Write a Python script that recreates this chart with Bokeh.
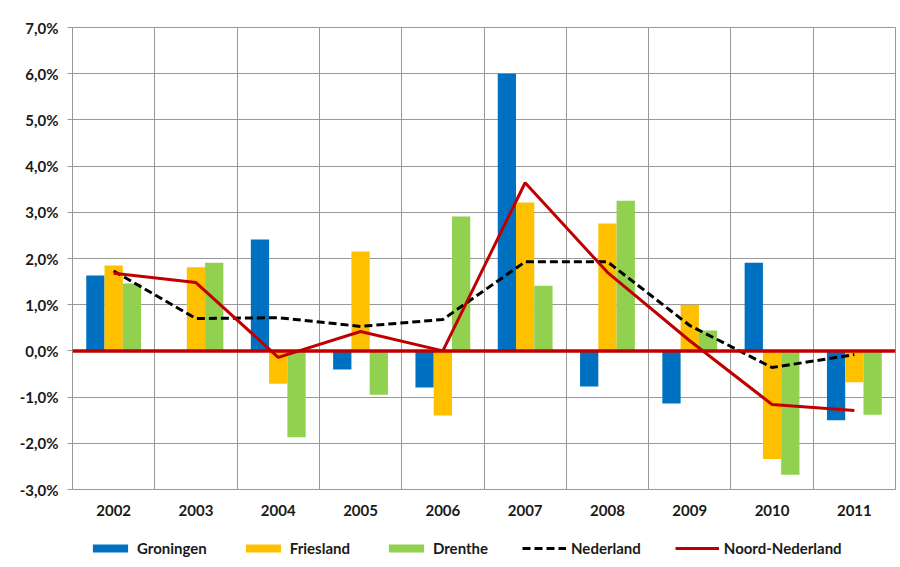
import numpy as np
from bokeh.plotting import figure
from bokeh.layouts import column
from bokeh.models import (Range1d, FixedTicker, CustomJSTickFormatter, Span,
                          Legend, LegendItem)
from bokeh.transform import dodge
from bokeh.embed import file_html
from bokeh.resources import INLINE

years = ["2002", "2003", "2004", "2005", "2006", "2007", "2008", "2009", "2010", "2011"]
groningen = [1.63, 0.0, 2.41, -0.40, -0.79, 6.00, -0.77, -1.14, 1.91, -1.50]
friesland = [1.85, 1.81, -0.71, 2.15, -1.40, 3.21, 2.76, 1.00, -2.34, -0.68]
drenthe = [1.46, 1.91, -1.87, -0.95, 2.91, 1.41, 3.25, 0.44, -2.68, -1.38]
nederland = [1.73, 0.70, 0.72, 0.53, 0.68, 1.93, 1.93, 0.55, -0.36, -0.08]
noord_nederland = [1.68, 1.48, -0.14, 0.42, 0.0, 3.64, 1.70, 0.22, -1.16, -1.29]
y_ticks = [-3, -2, -1, 0, 1, 2, 3, 4, 5, 6, 7]
series_names = ["Groningen", "Friesland", "Drenthe", "Nederland", "Noord-Nederland"]

BLUE, ORANGE, GREEN, RED = "#0070C0", "#FFC000", "#92D050", "#C00000"
FONT = "Lato"

pos = list(range(len(years)))
src = dict(x=pos, gr=groningen, fr=friesland, dr=drenthe, ne=nederland, nn=noord_nederland)


def draw_series(fig, xr):
    bw = 0.222
    r_gr = fig.vbar(x=dodge("x", -bw, range=xr), top="gr", width=bw, source=src,
                    fill_color=BLUE, line_color=None)
    r_fr = fig.vbar(x=dodge("x", 0, range=xr), top="fr", width=bw, source=src,
                    fill_color=ORANGE, line_color=None)
    r_dr = fig.vbar(x=dodge("x", bw, range=xr), top="dr", width=bw, source=src,
                    fill_color=GREEN, line_color=None)
    return r_gr, r_fr, r_dr


p = figure(width=900, height=527, output_backend="svg", toolbar_location=None,
           x_range=Range1d(-0.5, len(years) - 0.5), y_range=Range1d(-3, 7),
           min_border_left=72, min_border_top=27, min_border_right=5, min_border_bottom=38)

draw_series(p, p.x_range)

zero = Span(location=0, dimension="width", line_color=RED, line_width=3.5)
p.add_layout(zero)

p.line("x", "ne", source=src, line_color="black", line_width=3, line_dash="8 4")
p.line("x", "nn", source=src, line_color=RED, line_width=3)

# axes
p.yaxis.ticker = FixedTicker(ticks=y_ticks)
p.yaxis.formatter = CustomJSTickFormatter(code="return tick.toFixed(1).replace('.', ',') + '%';")
p.xaxis.ticker = FixedTicker(ticks=pos)
p.xaxis.formatter = CustomJSTickFormatter(args=dict(labels=years), code="return labels[Math.round(tick)];")
for ax in (p.xaxis, p.yaxis):
    ax.major_label_text_font = FONT
    ax.major_label_text_font_style = "bold"
    ax.major_label_text_font_size = "15px"
    ax.major_label_text_color = "#1a1a1a"
    ax.axis_line_color = "#999999"
    ax.minor_tick_line_color = None
p.yaxis.major_tick_line_color = "#999999"
p.yaxis.major_tick_in = 0
p.yaxis.major_tick_out = 5
p.yaxis.major_label_standoff = 9
p.xaxis.major_tick_line_color = None
p.xaxis.major_label_standoff = 9

p.xgrid.ticker = FixedTicker(ticks=[i - 0.5 for i in range(len(years) + 1)])
p.ygrid.ticker = FixedTicker(ticks=y_ticks)
p.xgrid.grid_line_color = "#999999"
p.ygrid.grid_line_color = "#999999"
p.outline_line_color = "#999999"

# legend strip below the chart (side-panel legends stretch the layout);
# same series, but the y range is set so nothing shows in the strip
lg = figure(width=900, height=40, output_backend="svg", toolbar_location=None,
            x_range=Range1d(-0.5, len(years) - 0.5), y_range=Range1d(50, 51),
            x_axis_type=None, y_axis_type=None, min_border=0)
lg.outline_line_color = None
k_gr, k_fr, k_dr = draw_series(lg, lg.x_range)
k_ne = lg.line("x", "ne", source=src, line_color="black", line_width=3, line_dash="8 4")
k_nn = lg.line("x", "nn", source=src, line_color=RED, line_width=3)

legend = Legend(items=[LegendItem(label=n, renderers=[r]) for n, r in
                       zip(series_names, [k_gr, k_fr, k_dr, k_ne, k_nn])],
                orientation="horizontal", location=(16, 10))
legend.label_text_font = FONT
legend.label_text_font_style = "bold"
legend.label_text_font_size = "15px"
legend.label_text_color = "#1a1a1a"
legend.glyph_width = 44
legend.glyph_height = 10
legend.spacing = 34
legend.label_standoff = 5
legend.border_line_color = None
legend.background_fill_alpha = 0
legend.margin = 0
legend.padding = 0
lg.add_layout(legend)

layout = column(p, lg, spacing=0)
open("out.html", "w").write(file_html(layout, INLINE))
